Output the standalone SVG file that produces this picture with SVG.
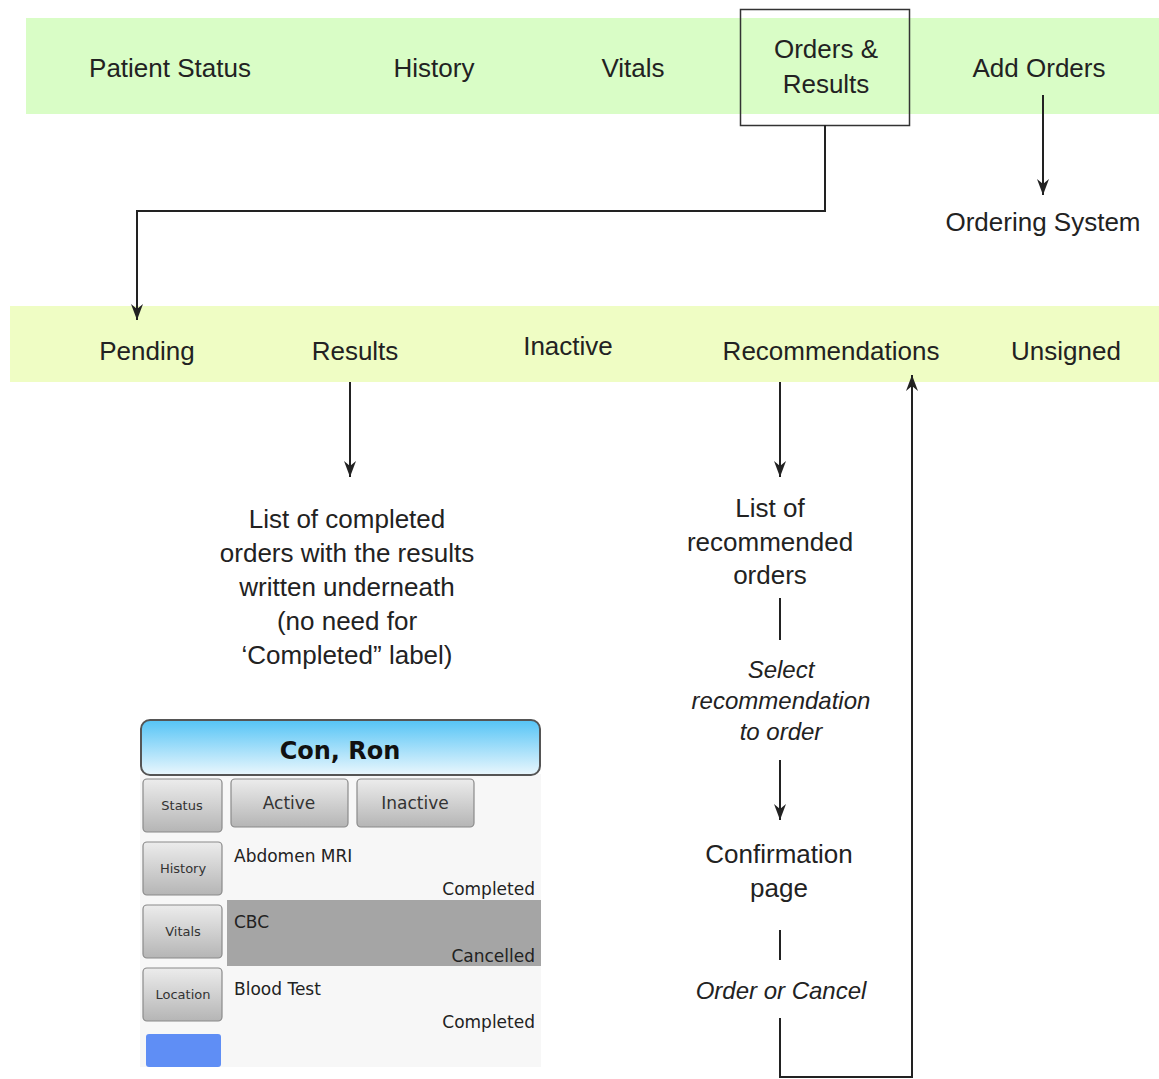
<svg xmlns="http://www.w3.org/2000/svg" width="1159" height="1079" viewBox="0 0 1159 1079">
<style>
.t{font-family:"Liberation Sans",Arial,sans-serif;font-size:26px;fill:#222;text-anchor:middle}
.i{font-family:"Liberation Sans",Arial,sans-serif;font-size:24px;font-style:italic;fill:#222;text-anchor:middle}
.c{fill:none;stroke:#222;stroke-width:2}
.btn{fill:url(#bg);stroke:#8a8a8a;stroke-width:1.2}
.bl{font-family:"DejaVu Sans",sans-serif;font-size:13px;fill:#333;text-anchor:middle}
.tl{font-family:"DejaVu Sans",sans-serif;font-size:17px;fill:#333;text-anchor:middle}
.it{font-family:"DejaVu Sans",sans-serif;font-size:17px;fill:#222}
.st{font-family:"DejaVu Sans",sans-serif;font-size:17px;fill:#222;text-anchor:end}
</style>
<defs>
<marker id="arr" viewBox="0 0 16 12" refX="16" refY="6" markerWidth="16" markerHeight="12" markerUnits="userSpaceOnUse" orient="auto">
<path d="M0,0 L16,6 L0,12 L5,6 Z" fill="#222"/>
</marker>
<linearGradient id="hdr" x1="0" y1="0" x2="0" y2="1">
<stop offset="0" stop-color="#55c4f6"/>
<stop offset="1" stop-color="#eaf7fd"/>
</linearGradient>
<linearGradient id="bg" x1="0" y1="0" x2="0" y2="1">
<stop offset="0" stop-color="#ececec"/>
<stop offset="1" stop-color="#b5b5b5"/>
</linearGradient>
</defs>
<rect width="1159" height="1079" fill="#fff"/>
<g id="topband">
<rect x="26" y="18" width="1133" height="96" fill="#d9fdc6"/>
</g>
<g id="subband">
<rect x="10" y="306" width="1149" height="76" fill="#effdc4"/>
</g>
<g id="n-patient-status"><text class="t" x="170" y="77">Patient Status</text></g>
<g id="n-history"><text class="t" x="434" y="77">History</text></g>
<g id="n-vitals"><text class="t" x="633" y="77">Vitals</text></g>
<g id="n-orders-results">
<rect x="740.5" y="9.5" width="169" height="116" fill="none" stroke="#333" stroke-width="1.5"/>
<text class="t" x="826" y="58">Orders &amp;</text>
<text class="t" x="826" y="93">Results</text>
</g>
<g id="n-add-orders"><text class="t" x="1039" y="77">Add Orders</text></g>
<g id="n-ordering-system"><text class="t" x="1043" y="231">Ordering System</text></g>
<g id="n-pending"><text class="t" x="147" y="360">Pending</text></g>
<g id="n-results"><text class="t" x="355" y="360">Results</text></g>
<g id="n-inactive"><text class="t" x="568" y="355">Inactive</text></g>
<g id="n-recommendations"><text class="t" x="831" y="360">Recommendations</text></g>
<g id="n-unsigned"><text class="t" x="1066" y="360">Unsigned</text></g>
<g id="n-completed-list">
<text class="t" x="347" y="528">List of completed</text>
<text class="t" x="347" y="562">orders with the results</text>
<text class="t" x="347" y="596">written underneath</text>
<text class="t" x="347" y="630">(no need for</text>
<text class="t" x="347" y="664">‘Completed” label)</text>
</g>
<g id="n-recommended-list">
<text class="t" x="770" y="517">List of</text>
<text class="t" x="770" y="551">recommended</text>
<text class="t" x="770" y="584">orders</text>
</g>
<g id="n-select">
<text class="i" x="781" y="678">Select</text>
<text class="i" x="781" y="709">recommendation</text>
<text class="i" x="781" y="740">to order</text>
</g>
<g id="n-confirmation">
<text class="t" x="779" y="863">Confirmation</text>
<text class="t" x="779" y="897">page</text>
</g>
<g id="n-order-cancel">
<text class="i" x="781" y="999">Order or Cancel</text>
</g>
<g id="connectors">
<polyline class="c" points="825,125 825,211 137,211 137,320" marker-end="url(#arr)"/>
<line class="c" x1="1043" y1="95" x2="1043" y2="195" marker-end="url(#arr)"/>
<line class="c" x1="350" y1="382" x2="350" y2="477" marker-end="url(#arr)"/>
<line class="c" x1="780" y1="382" x2="780" y2="477" marker-end="url(#arr)"/>
<line class="c" x1="780" y1="598" x2="780" y2="640"/>
<line class="c" x1="780" y1="760" x2="780" y2="820" marker-end="url(#arr)"/>
<line class="c" x1="780" y1="930" x2="780" y2="960"/>
<polyline class="c" points="780,1018 780,1077 912,1077 912,375" marker-end="url(#arr)"/>
</g>
<g id="screenshot">
<rect x="140" y="774" width="401" height="293" fill="#f7f7f7"/>
<rect x="141" y="720" width="399" height="55" rx="9" fill="url(#hdr)" stroke="#555" stroke-width="2"/>
<text x="340" y="759" font-family="'DejaVu Sans',sans-serif" font-size="24" font-weight="bold" fill="#111" text-anchor="middle">Con, Ron</text>
<rect class="btn" x="143" y="779" width="79" height="53" rx="4"/>
<text class="bl" x="182" y="810">Status</text>
<rect class="btn" x="143" y="842" width="79" height="53" rx="4"/>
<text class="bl" x="183" y="873">History</text>
<rect class="btn" x="143" y="905" width="79" height="53" rx="4"/>
<text class="bl" x="183" y="936">Vitals</text>
<rect class="btn" x="143" y="968" width="79" height="53" rx="4"/>
<text class="bl" x="183" y="999">Location</text>
<rect x="146" y="1034" width="75" height="33" rx="3" fill="#5f8ef5"/>
<rect class="btn" x="231" y="779" width="117" height="48" rx="4"/>
<text class="tl" x="289" y="809">Active</text>
<rect class="btn" x="357" y="779" width="117" height="48" rx="4"/>
<text class="tl" x="415" y="809">Inactive</text>
<text class="it" x="234" y="862">Abdomen MRI</text>
<text class="st" x="535" y="895">Completed</text>
<rect x="227" y="900" width="314" height="66" fill="#a5a5a5"/>
<text class="it" x="234" y="928">CBC</text>
<text class="st" x="535" y="962">Cancelled</text>
<text class="it" x="234" y="995">Blood Test</text>
<text class="st" x="535" y="1028">Completed</text>
</g>
</svg>
